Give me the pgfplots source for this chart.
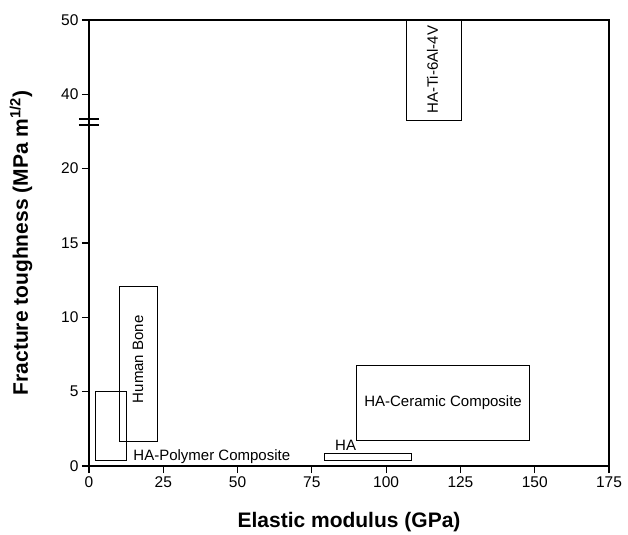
\documentclass[border=0pt]{standalone}
\usepackage{fontspec}
\setmainfont{Liberation Sans}
\usepackage{pgfplots}
\pgfplotsset{compat=1.18}
\begin{document}
\begin{tikzpicture}
\begin{axis}[
  scale only axis, width=520pt, height=446pt,
  xmin=0, xmax=175, ymin=0, ymax=30,
  xtick={0,25,...,175},
  ytick={0,5,10,15,20,25,30},
  yticklabels={0,5,10,15,20,40,50},
  tick align=outside, major tick length=7pt,
  xtick pos=bottom, ytick pos=left,
  axis line style={line width=1.2pt},
  every tick/.style={black, line width=1.2pt},
  tick label style={font=\fontsize{15.5}{18}\selectfont},
  /pgf/number format/assume math mode=true,
  clip=false,
]
% rectangles: (xmin,ymin) to (xmax,ymax); upper part of y is compressed (25 = 40, 30 = 50)
\addplot[black, line width=1pt, mark=none] coordinates {(2.1,0.36) (12.6,0.36) (12.6,5.0) (2.1,5.0)} -- cycle;
\addplot[black, line width=1pt, mark=none] coordinates {(10.4,1.65) (23.0,1.65) (23.0,12.1) (10.4,12.1)} -- cycle;
\addplot[black, line width=1pt, mark=none] coordinates {(89.9,1.72) (148.4,1.72) (148.4,6.74) (89.9,6.74)} -- cycle;
\addplot[black, line width=1pt, mark=none] coordinates {(79.4,0.38) (108.7,0.38) (108.7,0.82) (79.4,0.82)} -- cycle;
\addplot[black, line width=1pt, mark=none] coordinates {(106.7,23.25) (125.4,23.25) (125.4,30) (106.7,30)} -- cycle;

\node[font=\fontsize{15}{18}\selectfont] at (axis cs:119.15,4.23) {HA-Ceramic Composite};
\node[font=\fontsize{15}{18}\selectfont, anchor=base west, inner sep=0pt] at (axis cs:14.9,0.40) {HA-Polymer Composite};
\node[font=\fontsize{15}{18}\selectfont, anchor=base west, inner sep=0pt] at (axis cs:82.8,1.03) {HA};
\node[font=\fontsize{15}{18}\selectfont, rotate=90] at (axis cs:16.5,7.18) {Human Bone};
\node[font=\fontsize{15}{18}\selectfont, rotate=90] at (axis cs:115.6,26.66) {HA-Ti-6Al-4V};

% axis break
\draw[line width=1.2pt] ([xshift=-10pt]axis cs:0,23.34) -- ([xshift=10pt]axis cs:0,23.34);
\draw[line width=1.2pt] ([xshift=-10pt]axis cs:0,22.94) -- ([xshift=10pt]axis cs:0,22.94);
\end{axis}
\node[font=\fontsize{21}{25}\selectfont\bfseries, anchor=base] at ([yshift=-61pt]current axis.south) {Elastic modulus (GPa)};
\node[font=\fontsize{21}{25}\selectfont\bfseries, rotate=90, anchor=base] at ([xshift=-61pt]current axis.west) {Fracture toughness (MPa m\textsuperscript{1/2})};
\path ([shift={(-89pt,-67pt)}]current axis.south west) rectangle ([shift={(19pt,20pt)}]current axis.north east);
\end{tikzpicture}
\end{document}
